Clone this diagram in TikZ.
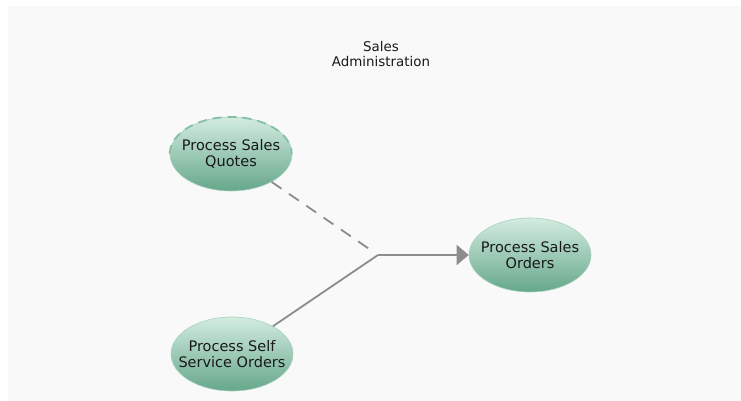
\documentclass[tikz,border=0pt]{standalone}
\usepackage{fontspec}
\setmainfont{DejaVu Sans}
\usetikzlibrary{shapes.geometric,arrows.meta}
\definecolor{procTop}{HTML}{D3ECE0}
\definecolor{procMid}{HTML}{98CAB3}
\definecolor{procBot}{HTML}{66A78B}
\definecolor{procEdge}{HTML}{A6D2BE}
\definecolor{procRim}{HTML}{86BFA5}
\definecolor{flowGray}{HTML}{8C8C8C}
\definecolor{panelBg}{HTML}{F9F9F9}
\begin{document}
\begin{tikzpicture}[x=1pt, y=-1pt]
        \tikzstyle{proc} = [ellipse, align=center, inner xsep=-11pt, inner ysep=0pt, minimum width=122pt, minimum height=74pt,
            top color=procTop, middle color=procMid, bottom color=procBot, draw=procEdge, line width=0.6pt,
            text=black!90, font=\fontsize{14.5}{15.5}\selectfont]
        \tikzstyle{flow} = [draw=flowGray, line width=1.8pt]

        % panel
        \useasboundingbox (0,0) rectangle (741,401);
        \fill[white] (0,0) rectangle (741,401);
        \fill[panelBg] (8,6) rectangle (741,401);

        \node (title) [align=center, font=\fontsize{13.4}{14.5}\selectfont, text=black!90] at (381,54) {Sales\\Administration};

        \node (quotes) [proc] at (231,154) {Process Sales\\Quotes};
        \node (orders) [proc] at (530,255) {Process Sales\\Orders};
        \node (self) [proc] at (232,354) {Process Self\\Service Orders};

        % dashed rim on top of the quotes
        \draw[draw=procRim, line width=1.8pt, dash pattern=on 9pt off 6pt] (quotes.west) arc[start angle=180, end angle=0, x radius=61pt, y radius=37pt];

        \coordinate (jn) at (378,255);

        \draw[flow, dash pattern=on 12pt off 9pt, shorten >=6pt] (quotes) -- (jn);
        \draw[flow] (self) -- (jn);
        \draw[flow, -{Triangle[length=12pt, width=20pt]}] (jn) -- (orders);

    \end{tikzpicture}
\end{document}
